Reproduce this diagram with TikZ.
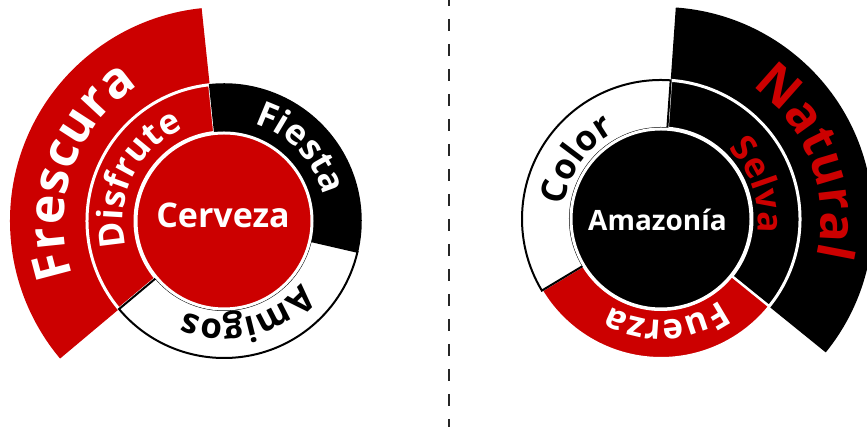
\documentclass[tikz,border=0pt]{standalone}
\usepackage{fontspec}
\setmainfont{Open Sans}
\usetikzlibrary{decorations.text}
\definecolor{cred}{RGB}{204,0,0}
\definecolor{dashgray}{RGB}{38,38,38}
\newcommand\ringseg[5]{%
  \path[#1] (#2:#4pt) -- (#2:#5pt) arc[start angle=#2, end angle=#3, radius=#5pt]
    -- (#3:#4pt) arc[start angle=#3, end angle=#2, radius=#4pt] -- cycle;}
\newcommand\arctext[4]{%
  \path[decorate, decoration={text along path, text align=center, text={|#3|#4}}]
    (#1+80:#2pt) arc[start angle=#1+80, end angle=#1-80, radius=#2pt];}
\newcommand\bigtxt{\fontsize{50}{50}\selectfont\bfseries}
\newcommand\midtxt{\fontsize{35}{35}\selectfont\bfseries}
\begin{document}
\begin{tikzpicture}[x=1pt,y=1pt,
  dashline/.style={draw=dashgray, line width=2.5pt, dash pattern=on 12pt off 13pt, dash phase=6pt},
  ctext/.style={inner sep=0pt, text=white, font=\fontsize{34}{34}\selectfont\bfseries},
  atext/.style={inner sep=0pt, text=white, font=\fontsize{28}{28}\selectfont\bfseries}]
\useasboundingbox (0,0) rectangle (867,427);
\clip (0,0) rectangle (867,427);
\coordinate (dtop) at (449,427);
\coordinate (dbot) at (449,0);
\draw[dashline] (dtop) -- (dbot);
% left diagram
\begin{scope}[shift={(224,206)}]
  \ringseg{fill=cred}{96}{220}{137}{214}
  \ringseg{fill=cred, draw=white, line width=3pt}{96}{220}{89}{137}
  \ringseg{fill=black, draw=black, line width=1.5pt}{-13}{96}{89}{137}
  \ringseg{fill=white, draw=black, line width=2pt}{220}{347}{89}{137}
  \draw[fill=cred, draw=white, line width=3pt] (0,0) circle[radius=88pt];
  \node[ctext] (cerveza) at (-1,6) {Cerveza};
  \arctext{161}{160}{\bigtxt\color{white}}{Frescura}
  \arctext{154}{101}{\midtxt\color{white}}{Disfrute}
  \arctext{43.5}{102}{\midtxt\color{white}}{Fiesta}
  \arctext{-76}{99}{\midtxt\color{black}}{Amigos}
\end{scope}
% right diagram
\begin{scope}[shift={(661,208)}]
  \ringseg{fill=black}{-39}{86}{139}{212}
  \ringseg{fill=black, draw=white, line width=3pt}{-39}{86}{91}{139}
  \ringseg{fill=cred, draw=white, line width=2pt}{211}{321}{91}{139}
  \ringseg{fill=white, draw=black, line width=2pt}{86}{211}{91}{139}
  \draw[fill=black, draw=white, line width=3pt] (0,0) circle[radius=90pt];
  \node[atext] (amazonia) at (-3.5,-1) {Amazonía};
  \arctext{21}{160}{\bigtxt\color{cred}}{Natural}
  \arctext{19}{97}{\midtxt\color{cred}}{Selva}
  \arctext{145}{98}{\midtxt\color{black}}{Color}
  \arctext{-87}{101}{\midtxt\color{white}}{Fuerza}
\end{scope}
\end{tikzpicture}
\end{document}
